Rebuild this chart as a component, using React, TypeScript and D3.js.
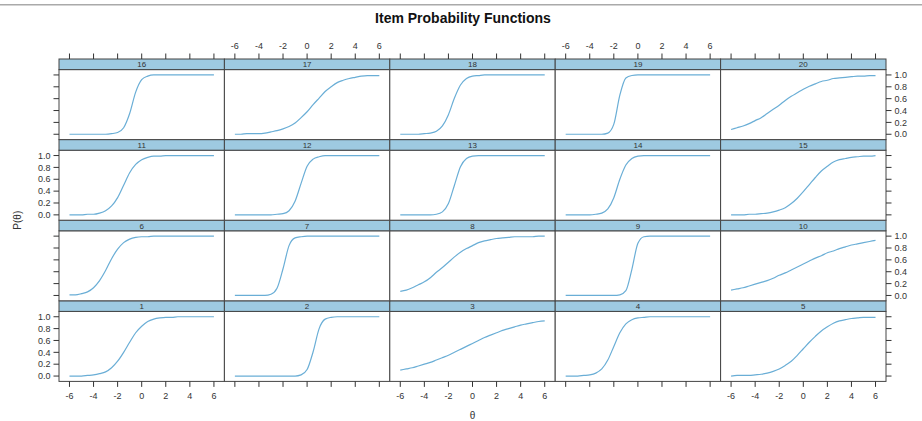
import * as d3 from "d3";

// ability grid (theta) shared by every item curve
const THETA = [
  -6, -5.5, -5, -4.5, -4, -3.5, -3, -2.5, -2, -1.5, -1, -0.5, 0, 0.5, 1, 1.5, 2,
  2.5, 3, 3.5, 4, 4.5, 5, 5.5, 6,
];

// P(theta) for each item
const ITEM_1 = [0, 0, 0, 0.01, 0.02, 0.04, 0.07, 0.14, 0.25, 0.4, 0.57, 0.73, 0.84, 0.92, 0.96, 0.98, 0.99, 0.99, 1, 1, 1, 1, 1, 1, 1];
const ITEM_2 = [0, 0, 0, 0, 0, 0, 0, 0, 0, 0, 0, 0.02, 0.11, 0.41, 0.8, 0.96, 0.99, 1, 1, 1, 1, 1, 1, 1, 1];
const ITEM_3 = [0.1, 0.12, 0.14, 0.17, 0.2, 0.23, 0.27, 0.31, 0.35, 0.4, 0.45, 0.5, 0.55, 0.6, 0.65, 0.69, 0.73, 0.77, 0.8, 0.83, 0.86, 0.88, 0.9, 0.92, 0.93];
const ITEM_4 = [0, 0, 0, 0.01, 0.02, 0.05, 0.12, 0.27, 0.5, 0.73, 0.88, 0.95, 0.98, 0.99, 1, 1, 1, 1, 1, 1, 1, 1, 1, 1, 1];
const ITEM_5 = [0, 0.01, 0.01, 0.01, 0.02, 0.03, 0.05, 0.08, 0.12, 0.18, 0.25, 0.35, 0.46, 0.57, 0.67, 0.76, 0.83, 0.89, 0.93, 0.95, 0.97, 0.98, 0.99, 0.99, 0.99];
const ITEM_6 = [0.01, 0.01, 0.03, 0.06, 0.13, 0.25, 0.42, 0.62, 0.78, 0.89, 0.95, 0.98, 0.99, 0.99, 1, 1, 1, 1, 1, 1, 1, 1, 1, 1, 1];
const ITEM_7 = [0, 0, 0, 0, 0, 0, 0.02, 0.12, 0.45, 0.84, 0.97, 0.99, 1, 1, 1, 1, 1, 1, 1, 1, 1, 1, 1, 1, 1];
const ITEM_8 = [0.07, 0.09, 0.13, 0.18, 0.23, 0.3, 0.39, 0.47, 0.56, 0.65, 0.73, 0.79, 0.84, 0.89, 0.92, 0.94, 0.96, 0.97, 0.98, 0.99, 0.99, 0.99, 0.99, 1, 1];
const ITEM_9 = [0, 0, 0, 0, 0, 0, 0, 0, 0, 0.01, 0.08, 0.44, 0.88, 0.99, 1, 1, 1, 1, 1, 1, 1, 1, 1, 1, 1];
const ITEM_10 = [0.09, 0.11, 0.13, 0.16, 0.19, 0.22, 0.25, 0.29, 0.34, 0.38, 0.43, 0.48, 0.53, 0.58, 0.63, 0.67, 0.72, 0.75, 0.79, 0.82, 0.85, 0.87, 0.89, 0.91, 0.93];
const ITEM_11 = [0, 0, 0, 0.01, 0.01, 0.03, 0.07, 0.15, 0.29, 0.5, 0.71, 0.85, 0.93, 0.97, 0.99, 0.99, 1, 1, 1, 1, 1, 1, 1, 1, 1];
const ITEM_12 = [0, 0, 0, 0, 0, 0, 0, 0.01, 0.02, 0.07, 0.23, 0.53, 0.82, 0.94, 0.98, 1, 1, 1, 1, 1, 1, 1, 1, 1, 1];
const ITEM_13 = [0, 0, 0, 0, 0, 0, 0.01, 0.05, 0.19, 0.5, 0.81, 0.95, 0.99, 1, 1, 1, 1, 1, 1, 1, 1, 1, 1, 1, 1];
const ITEM_14 = [0, 0, 0, 0, 0, 0.01, 0.03, 0.1, 0.29, 0.6, 0.84, 0.95, 0.99, 1, 1, 1, 1, 1, 1, 1, 1, 1, 1, 1, 1];
const ITEM_15 = [0, 0, 0, 0.01, 0.01, 0.02, 0.03, 0.05, 0.08, 0.12, 0.19, 0.28, 0.39, 0.51, 0.63, 0.74, 0.82, 0.89, 0.93, 0.95, 0.97, 0.98, 0.99, 0.99, 1];
const ITEM_16 = [0, 0, 0, 0, 0, 0, 0, 0.01, 0.03, 0.11, 0.35, 0.71, 0.92, 0.98, 1, 1, 1, 1, 1, 1, 1, 1, 1, 1, 1];
const ITEM_17 = [0, 0, 0.01, 0.01, 0.01, 0.02, 0.04, 0.06, 0.09, 0.13, 0.19, 0.28, 0.38, 0.5, 0.61, 0.72, 0.8, 0.87, 0.91, 0.94, 0.96, 0.98, 0.99, 0.99, 0.99];
const ITEM_18 = [0, 0, 0, 0, 0.01, 0.02, 0.05, 0.14, 0.33, 0.61, 0.83, 0.94, 0.98, 0.99, 1, 1, 1, 1, 1, 1, 1, 1, 1, 1, 1];
const ITEM_19 = [0, 0, 0, 0, 0, 0, 0, 0.02, 0.17, 0.66, 0.95, 0.99, 1, 1, 1, 1, 1, 1, 1, 1, 1, 1, 1, 1, 1];
const ITEM_20 = [0.08, 0.11, 0.14, 0.18, 0.23, 0.28, 0.35, 0.42, 0.49, 0.57, 0.64, 0.7, 0.76, 0.81, 0.85, 0.89, 0.91, 0.94, 0.95, 0.96, 0.97, 0.98, 0.98, 0.99, 0.99];

const ITEM_LABELS = ["1", "2", "3", "4", "5", "6", "7", "8", "9", "10", "11", "12", "13", "14", "15", "16", "17", "18", "19", "20"];
const ITEM_CURVES = [
  ITEM_1, ITEM_2, ITEM_3, ITEM_4, ITEM_5, ITEM_6, ITEM_7, ITEM_8, ITEM_9, ITEM_10,
  ITEM_11, ITEM_12, ITEM_13, ITEM_14, ITEM_15, ITEM_16, ITEM_17, ITEM_18, ITEM_19, ITEM_20,
];

const X_TICKS = [-6, -4, -2, 0, 2, 4, 6];
const Y_TICKS = [0, 0.2, 0.4, 0.6, 0.8, 1.0];

const W = 922;
const H = 421;
const FONT = "'Liberation Sans', Arial, sans-serif";
const INK = "#333";
const BORDER = "#444";
const STRIP_FILL = "#9ecae1";
const LINE = "#6aaed6";

const NCOL = 5;
const NROW = 4;
const LEFT = 59;
const RIGHT = 886;
const TOP = 59;
const ROW_H = 80.6;
const STRIP_H = 10.6;
const PANEL_H = ROW_H - STRIP_H;
const COL_W = (RIGHT - LEFT) / NCOL;
const BOTTOM = TOP + NROW * ROW_H;
const TICK = 5.5;

export default function App() {
  const line = d3
    .line<number>()
    .curve(d3.curveMonotoneX);

  const panels = ITEM_CURVES.map((vals, i) => {
    const col = i % NCOL;
    const row = NROW - 1 - Math.floor(i / NCOL); // row 0 = top
    const x0 = LEFT + col * COL_W;
    const y0 = TOP + row * ROW_H;
    const py = y0 + STRIP_H;
    const x = d3.scaleLinear().domain([-6.87, 6.87]).range([x0, x0 + COL_W]);
    const y = d3.scaleLinear().domain([-0.09, 1.09]).range([py + PANEL_H, py]);
    const d = line.x((_, k) => x(THETA[k])).y((v) => y(v))(vals) ?? "";
    return { i, col, row, x0, y0, py, x, y, d, label: ITEM_LABELS[i] };
  });

  const fmt = d3.format(".1f");

  return (
    <svg
      width={W}
      height={H}
      style={{ position: "absolute", left: 0, top: 0, background: "#fff" }}
      fontFamily={FONT}
    >
      <line x1={0} x2={W} y1={4.7} y2={4.7} stroke="#aaa" strokeWidth={1.6} />
      <text
        x={463}
        y={23}
        textAnchor="middle"
        fontSize={14}
        fontWeight="bold"
        fill="#111"
      >
        Item Probability Functions
      </text>

      {panels.map((p) => (
        <g key={p.i}>
          <rect
            x={p.x0}
            y={p.py}
            width={COL_W}
            height={PANEL_H}
            fill="#fff"
            stroke={BORDER}
            strokeWidth={1}
          />
          <rect
            x={p.x0}
            y={p.y0}
            width={COL_W}
            height={STRIP_H}
            fill={STRIP_FILL}
            stroke={BORDER}
            strokeWidth={1}
          />
          <text
            x={p.x0 + COL_W / 2}
            y={p.y0 + STRIP_H / 2 + 3}
            textAnchor="middle"
            fontSize={8}
            fill={INK}
          >
            {p.label}
          </text>
          <path d={p.d} fill="none" stroke={LINE} strokeWidth={1.2} />

          {/* top axis */}
          {p.row === 0 &&
            X_TICKS.map((t) => (
              <g key={`t${t}`}>
                <line
                  x1={p.x(t)}
                  x2={p.x(t)}
                  y1={TOP}
                  y2={TOP - TICK}
                  stroke={INK}
                />
                {p.col % 2 === 1 && (
                  <text
                    x={p.x(t)}
                    y={TOP - TICK - 5}
                    textAnchor="middle"
                    fontSize={9}
                    fill={INK}
                  >
                    {t}
                  </text>
                )}
              </g>
            ))}

          {/* bottom axis */}
          {p.row === NROW - 1 &&
            X_TICKS.map((t) => (
              <g key={`b${t}`}>
                <line
                  x1={p.x(t)}
                  x2={p.x(t)}
                  y1={BOTTOM}
                  y2={BOTTOM + TICK}
                  stroke={INK}
                />
                {p.col % 2 === 0 && (
                  <text
                    x={p.x(t)}
                    y={BOTTOM + TICK + 12}
                    textAnchor="middle"
                    fontSize={9}
                    fill={INK}
                  >
                    {t}
                  </text>
                )}
              </g>
            ))}

          {/* left axis */}
          {p.col === 0 &&
            Y_TICKS.map((t) => (
              <g key={`l${t}`}>
                <line
                  x1={LEFT}
                  x2={LEFT - TICK}
                  y1={p.y(t)}
                  y2={p.y(t)}
                  stroke={INK}
                />
                {p.row % 2 === 1 && (
                  <text
                    x={LEFT - TICK - 3}
                    y={p.y(t) + 3.2}
                    textAnchor="end"
                    fontSize={9}
                    fill={INK}
                  >
                    {fmt(t)}
                  </text>
                )}
              </g>
            ))}

          {/* right axis */}
          {p.col === NCOL - 1 &&
            Y_TICKS.map((t) => (
              <g key={`r${t}`}>
                <line
                  x1={RIGHT}
                  x2={RIGHT + TICK}
                  y1={p.y(t)}
                  y2={p.y(t)}
                  stroke={INK}
                />
                {p.row % 2 === 0 && (
                  <text
                    x={RIGHT + TICK + 3}
                    y={p.y(t) + 3.2}
                    textAnchor="start"
                    fontSize={9}
                    fill={INK}
                  >
                    {fmt(t)}
                  </text>
                )}
              </g>
            ))}
        </g>
      ))}

      <text
        transform={`translate(21,${(TOP + BOTTOM) / 2}) rotate(-90)`}
        textAnchor="middle"
        fontSize={10}
        fill={INK}
      >
        P(θ)
      </text>
      <text
        x={(LEFT + RIGHT) / 2}
        y={BOTTOM + 38}
        textAnchor="middle"
        fontSize={10}
        fill={INK}
      >
        θ
      </text>
    </svg>
  );
}
